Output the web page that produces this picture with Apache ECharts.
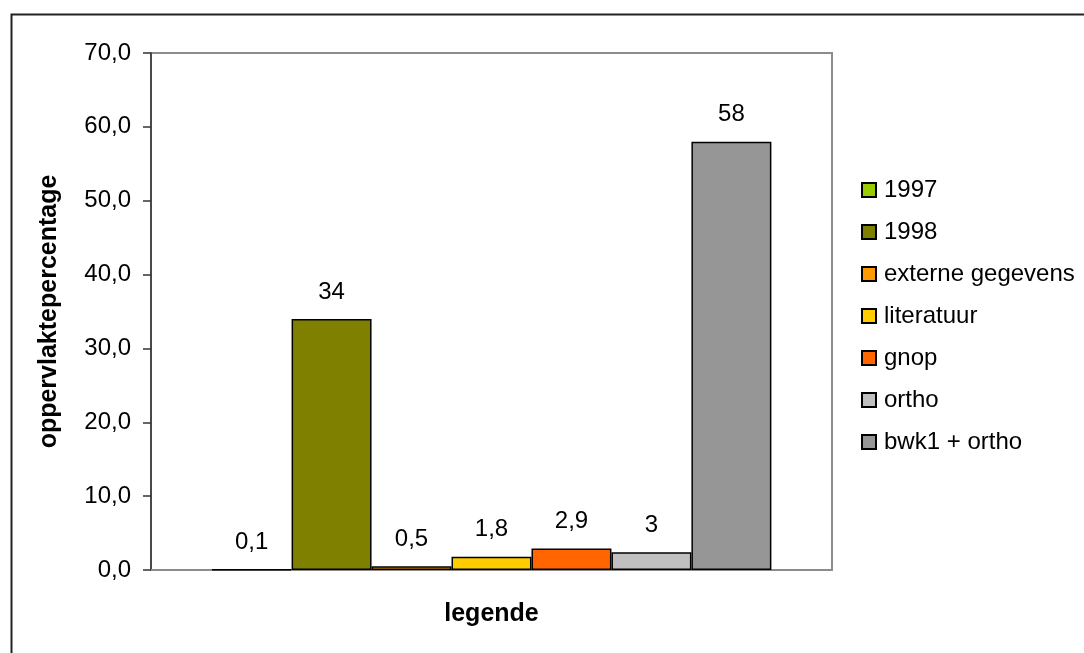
<!DOCTYPE html>
<html>
<head>
<meta charset="utf-8">
<script src="https://cdn.jsdelivr.net/npm/echarts@6/dist/echarts.min.js"></script>
<style>html,body{margin:0;padding:0;background:#fff;}#c{width:1084px;height:653px;}</style>
</head>
<body>
<div id="c"></div>
<script>
var categories = ['legende'];
var seriesNames = ['1997', '1998', 'externe gegevens', 'literatuur', 'gnop', 'ortho', 'bwk1 + ortho'];
var seriesValues = [0.1, 34, 0.5, 1.8, 2.9, 2.4, 58];
var valueLabels = ['0,1', '34', '0,5', '1,8', '2,9', '3', '58'];
var seriesColors = ['#99CC00', '#808000', '#FF9900', '#FFCC00', '#FF6600', '#C0C0C0', '#969696'];
var yTicks = [0, 10, 20, 30, 40, 50, 60, 70];

var FONT = 'Liberation Sans, Arial, sans-serif';
var chart = echarts.init(document.getElementById('c'), null, {renderer: 'canvas'});

var series = seriesNames.map(function (name, i) {
  return {
    name: name,
    type: 'bar',
    data: [seriesValues[i]],
    barGap: '0%',
    barCategoryGap: '17.8%',
    itemStyle: {color: seriesColors[i], borderColor: '#000', borderWidth: 1.5},
    label: {
      show: true, position: 'top', distance: 15,
      fontFamily: FONT, fontSize: 24, color: '#000',
      formatter: function () { return valueLabels[i]; }
    },
    emphasis: {disabled: true},
    animation: false
  };
});

chart.setOption({
  animation: false,
  backgroundColor: '#fff',
  textStyle: {fontFamily: FONT},
  graphic: [{
    type: 'rect', left: 9, top: 12,
    shape: {x: 0, y: 0, width: 1200, height: 800},
    style: {fill: 'none', stroke: '#222', lineWidth: 2},
    silent: true
  }],
  grid: {left: 151, right: 252, top: 53, bottom: 83, show: true, borderColor: '#8c8c8c', borderWidth: 2, backgroundColor: '#fff'},
  legend: {
    orient: 'vertical', left: 856, top: 173,
    itemWidth: 14, itemHeight: 14, itemGap: 18, icon: 'rect',
    itemStyle: {borderWidth: 2},
    textStyle: {fontFamily: FONT, fontSize: 24, color: '#000', lineHeight: 24, padding: [0, 0, 0, 3]},
    data: seriesNames
  },
  xAxis: {
    type: 'category', data: categories,
    name: 'legende', nameLocation: 'middle', nameGap: 32,
    nameTextStyle: {fontFamily: FONT, fontSize: 25, fontWeight: 'bold', color: '#000'},
    axisLine: {show: true, lineStyle: {color: '#8c8c8c', width: 2}},
    axisTick: {show: false},
    axisLabel: {show: false}
  },
  yAxis: {
    type: 'value', min: yTicks[0], max: yTicks[yTicks.length - 1], interval: 10,
    name: 'oppervlaktepercentage', nameLocation: 'middle', nameGap: 89,
    nameTextStyle: {fontFamily: FONT, fontSize: 25, fontWeight: 'bold', color: '#000'},
    axisLine: {show: true, lineStyle: {color: '#333', width: 1.5}},
    axisTick: {show: true, length: 8, lineStyle: {color: '#333', width: 1.5}},
    splitLine: {show: false},
    axisLabel: {
      fontFamily: FONT, fontSize: 24, color: '#000', margin: 20,
      formatter: function (v) { return v.toFixed(1).replace('.', ','); }
    }
  },
  series: series
});
</script>
</body>
</html>
